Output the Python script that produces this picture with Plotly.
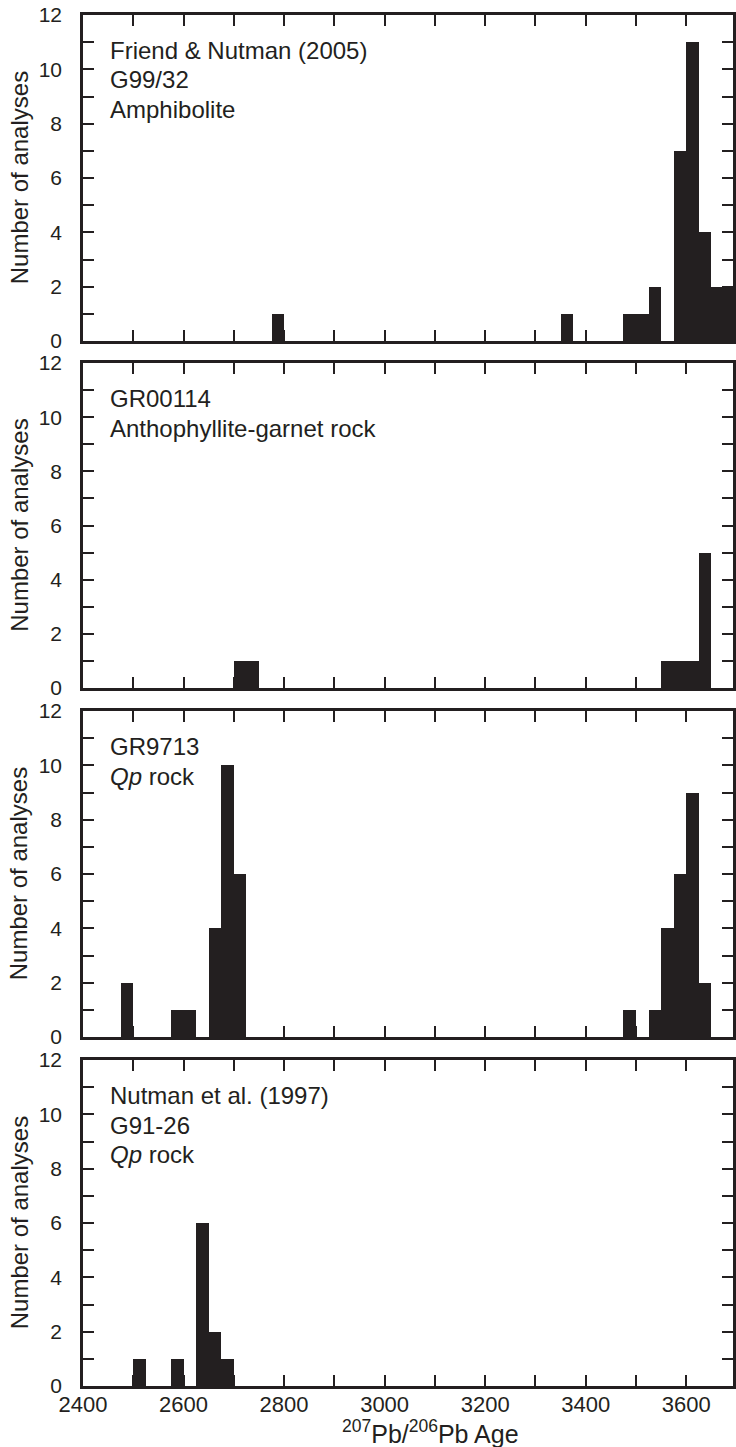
import plotly.graph_objects as go

# ---- data (bin starts in Ma, bin width 25 Ma; counts) ----
bin_width = 25
p1_starts = [2775, 3350, 3475, 3500, 3525, 3575, 3600, 3625, 3650, 3675]
p1_counts = [1, 1, 1, 1, 2, 7, 11, 4, 2, 2]
p2_starts = [2700, 2725, 3550, 3575, 3600, 3625]
p2_counts = [1, 1, 1, 1, 1, 5]
p3_starts = [2475, 2575, 2600, 2650, 2675, 2700, 3475, 3525, 3550, 3575, 3600, 3625]
p3_counts = [2, 1, 1, 4, 10, 6, 1, 1, 4, 6, 9, 2]
p4_starts = [2500, 2575, 2625, 2650, 2675]
p4_counts = [1, 1, 6, 2, 1]

panel_labels = [
    ["Friend & Nutman (2005)", "G99/32", "Amphibolite"],
    ["GR00114", "Anthophyllite-garnet rock"],
    ["GR9713", "<i>Qp</i> rock"],
    ["Nutman et al. (1997)", "G91-26", "<i>Qp</i> rock"],
]
y_title = "Number of analyses"
x_title = "<sup>207</sup>Pb/<sup>206</sup>Pb Age"
x_tickvals = list(range(2400, 3700, 100))
x_ticktext = [str(v) if v % 200 == 0 else "" for v in x_tickvals]
y_tickvals = list(range(0, 13))
y_ticktext = [str(v) if v % 2 == 0 else "" for v in y_tickvals]

INK = "#231f20"
FONT = "Liberation Sans, Arial, Helvetica, sans-serif"

W, H = 736, 1447
ML, MT, MB = 83, 15, 61
plot_h = H - MT - MB
panels_px = [(15, 341), (363, 688), (711, 1037), (1060, 1386)]


def to_paper(ypx):
    return (H - MB - ypx) / plot_h


def to_paper_x(xpx):
    return (xpx - ML) / (W - ML)


fig = go.Figure()
series = [(p1_starts, p1_counts), (p2_starts, p2_counts),
          (p3_starts, p3_counts), (p4_starts, p4_counts)]

layout = {}
for i, (starts, counts) in enumerate(series):
    n = i + 1
    xa = "x" if n == 1 else f"x{n}"
    ya = "y" if n == 1 else f"y{n}"
    fig.add_trace(go.Bar(
        x=starts, y=counts, width=bin_width, offset=0,
        marker=dict(color=INK, line=dict(width=0)),
        xaxis=xa, yaxis=ya, showlegend=False, hoverinfo="x+y",
    ))
    top, bot = panels_px[i]
    last = (n == 4)
    layout[f"xaxis{'' if n == 1 else n}"] = dict(
        domain=[0, 1], anchor=ya, range=[2400, 3693],
        tickmode="array", tickvals=x_tickvals,
        ticktext=x_ticktext if last else [""] * len(x_tickvals),
        showticklabels=last,
        ticks="inside", ticklen=11, tickwidth=2, tickcolor=INK,
        showline=True, linewidth=2.5, linecolor=INK, mirror="ticks",
        showgrid=False, zeroline=False, layer="below traces",
        ticklabelstandoff=-3,
        tickfont=dict(family=FONT, size=22, color=INK),
        fixedrange=True,
    )
    layout[f"yaxis{'' if n == 1 else n}"] = dict(
        domain=[to_paper(bot), to_paper(top)], anchor=xa, range=[0, 12],
        tickmode="array", tickvals=y_tickvals, ticktext=y_ticktext,
        ticks="inside", ticklen=11, tickwidth=2, tickcolor=INK,
        showline=True, linewidth=2.5, linecolor=INK, mirror="ticks",
        showgrid=False, zeroline=False, ticklabelstandoff=14,
        layer="below traces",
        tickfont=dict(family=FONT, size=21, color=INK),
        fixedrange=True,
    )

annotations = []
offsets = [35, 65, 94]
for i, lines in enumerate(panel_labels):
    n = i + 1
    top, bot = panels_px[i]
    xa = "x" if n == 1 else f"x{n}"
    ya = "y" if n == 1 else f"y{n}"
    for j, txt in enumerate(lines):
        annotations.append(dict(
            text=txt, xref=f"{xa} domain", yref=f"{ya} domain",
            x=to_paper_x(108), y=1 - offsets[j] / (bot - top),
            xanchor="left", yanchor="middle", showarrow=False,
            font=dict(family=FONT, size=24, color=INK),
        ))
    annotations.append(dict(
        text=y_title, xref="paper", yref="paper",
        x=to_paper_x(19), y=(to_paper(top) + to_paper(bot)) / 2,
        xanchor="center", yanchor="middle", textangle=-90, showarrow=False,
        font=dict(family=FONT, size=24, color=INK),
    ))

annotations.append(dict(
    text=x_title, xref="paper", yref="paper",
    x=to_paper_x(432), y=to_paper(1432),
    xanchor="center", yanchor="middle", showarrow=False,
    font=dict(family=FONT, size=25, color=INK),
))

fig.update_layout(
    **layout,
    annotations=annotations,
    width=W, height=H,
    margin=dict(l=ML, r=0, t=MT, b=MB, pad=0),
    plot_bgcolor="white", paper_bgcolor="white",
    bargap=0, showlegend=False,
)

fig.write_html(
    "out.html",
    config={"displayModeBar": False},
    post_script="document.body.style.margin='0';document.body.style.overflow='hidden';",
)
